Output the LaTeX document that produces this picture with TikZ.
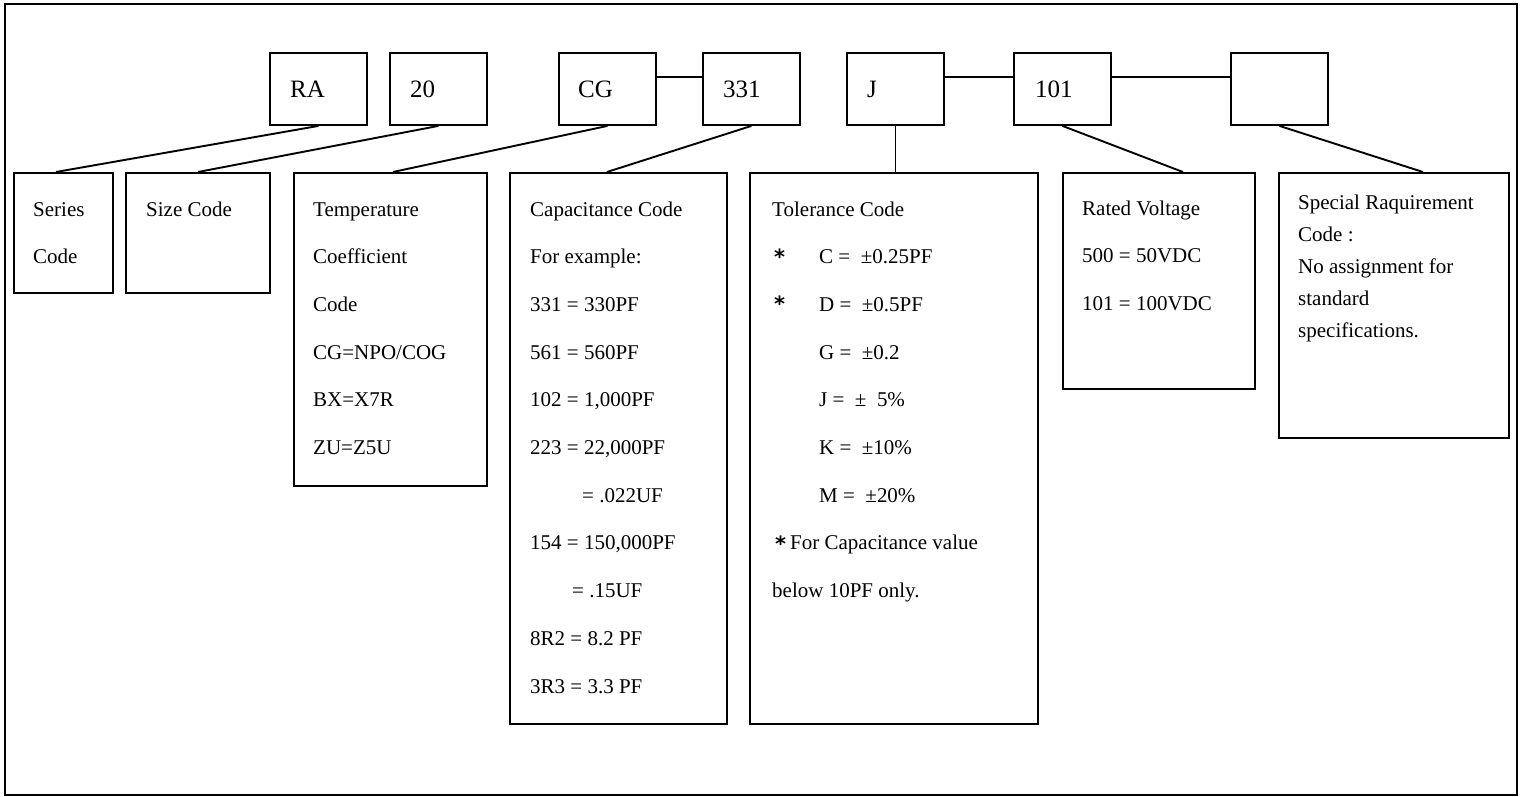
\documentclass[tikz,border=0pt]{standalone}
\usepackage{fontspec}
\setmainfont{Liberation Serif}
\newfontfamily\starfont{DejaVu Sans}
\newcommand{\tolstar}{\raisebox{-0.5pt}{\starfont\bfseries\fontsize{21}{21}\selectfont *}}
\usetikzlibrary{calc}
\begin{document}
\begin{tikzpicture}[x=1pt,y=-1pt,
  box/.style={draw, line width=1.9pt, inner sep=0pt, anchor=north west},
  topbox/.style={box, minimum width=97pt, minimum height=72pt},
  conn/.style={line width=1.9pt},
  lab/.style={anchor=base west, inner sep=0pt, font=\fontsize{21}{47.7}\selectfont},
  toplab/.style={anchor=base west, inner sep=0pt, font=\fontsize{25}{30}\selectfont}]
\useasboundingbox (0,0) rectangle (1521,796);
\draw[line width=2pt] (5,4) rectangle (1517,795);
% top code boxes
\node[topbox] (ra) at (269,52) {};
\node[topbox] (sz) at (389,52) {};
\node[topbox] (cg) at (558,52) {};
\node[topbox] (cap331) at (702,52) {};
\node[topbox] (jj) at (846,52) {};
\node[topbox] (volt101) at (1013,52) {};
\node[topbox] (blank) at (1230,52) {};
\node[toplab] (raT) at (290,97) {RA};
\node[toplab] (szT) at (410,97) {20};
\node[toplab] (cgT) at (578,97) {CG};
\node[toplab] (capT) at (723,97) {331};
\node[toplab] (jjT) at (867,97) {J};
\node[toplab] (voltT) at (1035,97) {101};
% description boxes
\node[box, minimum width=99pt, minimum height=120pt] (series) at (13,172) {};
\node[box, minimum width=144pt, minimum height=120pt] (size) at (125,172) {};
\node[box, minimum width=193pt, minimum height=313pt] (temp) at (293,172) {};
\node[box, minimum width=217pt, minimum height=551pt] (cap) at (509,172) {};
\node[box, minimum width=288pt, minimum height=551pt] (tol) at (749,172) {};
\node[box, minimum width=192pt, minimum height=216pt] (rated) at (1062,172) {};
\node[box, minimum width=230pt, minimum height=265pt] (special) at (1278,172) {};
% texts
\node[lab] (seriesT) at (33,216) {\parbox[t]{80pt}{Series\\Code}};
\node[lab] (sizeT) at (146,216) {\parbox[t]{120pt}{Size Code}};
\node[lab] (tempT) at (313,216) {\parbox[t]{170pt}{Temperature\\Coefficient\\Code\\CG=NPO/COG\\BX=X7R\\ZU=Z5U}};
\node[lab] (capText) at (530,216) {\parbox[t]{190pt}{Capacitance Code\\For example:\\331 = 330PF\\561 = 560PF\\102 = 1,000PF\\223 = 22,000PF\\\hspace*{52pt}= .022UF\\154 = 150,000PF\\\hspace*{42pt}= .15UF\\8R2 = 8.2 PF\\3R3 = 3.3 PF}};
\node[lab] (tolT) at (772,216) {\parbox[t]{260pt}{Tolerance Code\\
\hspace*{2pt}\makebox[45pt][l]{\tolstar}C =\ \ ±0.25PF\\
\hspace*{2pt}\makebox[45pt][l]{\tolstar}D =\ \ ±0.5PF\\
\hspace*{47pt}G =\ \ ±0.2\\
\hspace*{47pt}J =\ \ ±\ \ 5\%\\
\hspace*{47pt}K =\ \ ±10\%\\
\hspace*{47pt}M =\ \ ±20\%\\
\hspace*{3pt}\makebox[15pt][l]{\raisebox{-1.5pt}{\tolstar}}For Capacitance value\\
below 10PF only.}};
\node[lab] (ratedT) at (1082,215) {\parbox[t]{170pt}{\fontsize{21}{47.5}\selectfont Rated Voltage\\500 = 50VDC\\101 = 100VDC}};
\node[lab] (specialT) at (1298,209) {\parbox[t]{205pt}{\fontsize{21}{32}\selectfont Special Raquirement\\Code :\\No assignment for\\standard\\specifications.}};
% connectors
\draw[conn] ([yshift=12pt]cg.east) -- ([yshift=12pt]cap331.west);
\draw[conn] ([yshift=12pt]jj.east) -- ([yshift=12pt]volt101.west);
\draw[conn] ([yshift=12pt]volt101.east) -- ([yshift=12pt]blank.west);
\draw[conn] (ra.south) -- ([xshift=-7.5pt]series.north);
\draw[conn] (sz.south) -- (size.north);
\draw[conn] (cg.south) -- ([xshift=2.5pt]temp.north);
\draw[conn] (cap331.south) -- ([xshift=-11.5pt]cap.north);
\draw[conn] (jj.south) -- (jj.south |- tol.north);
\draw[conn] (volt101.south) -- ([xshift=24pt]rated.north);
\draw[conn] (blank.south) -- ([xshift=29pt]special.north);
\end{tikzpicture}
\end{document}
